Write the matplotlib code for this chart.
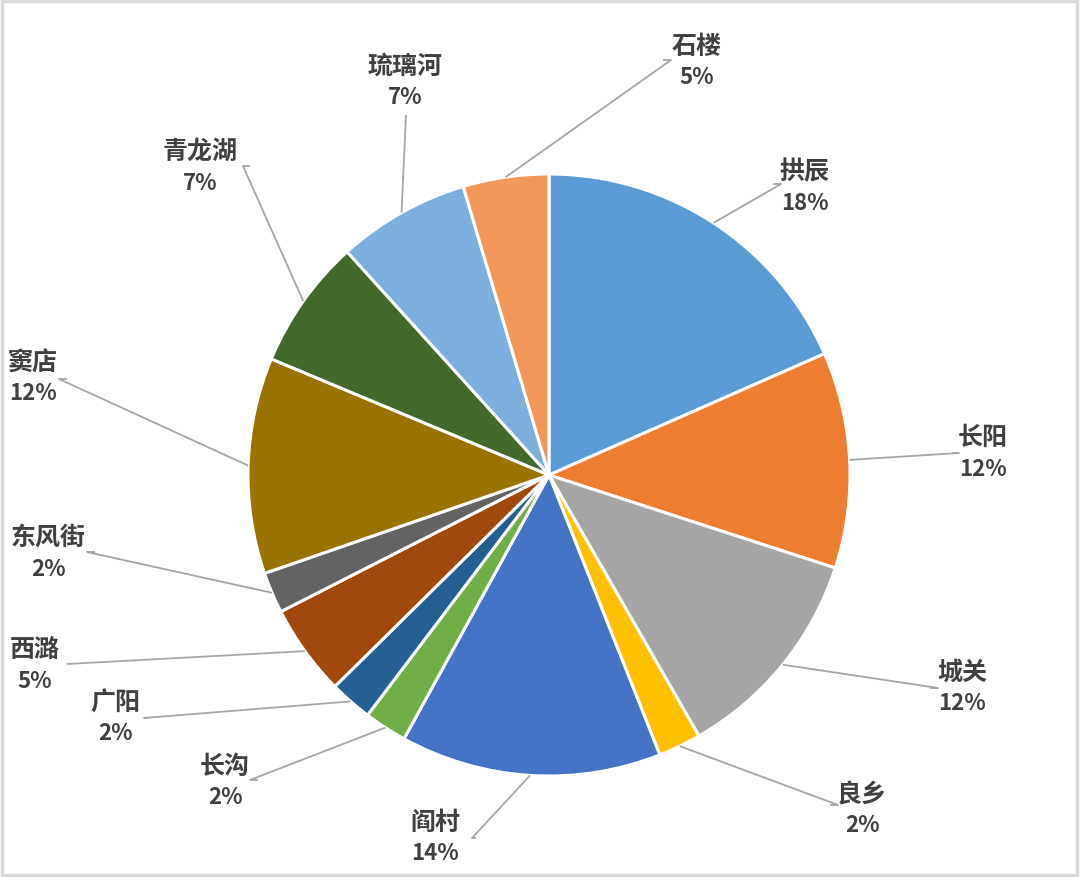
import matplotlib
matplotlib.use("Agg")
import matplotlib.pyplot as plt
import numpy as np
from matplotlib.patches import Rectangle

# ---- data ----
names = ["拱辰", "长阳", "城关", "良乡", "阎村", "长沟", "广阳", "西潞",
         "东风街", "窦店", "青龙湖", "琉璃河", "石楼"]
shares = [18.4, 11.6, 11.7, 2.3, 14.0, 2.3, 2.3, 4.9, 2.2, 11.6, 7.0, 7.1, 4.6]
colors = ["#5B9BD5", "#ED7D31", "#A5A5A5", "#FFC000", "#4472C4", "#70AD47",
          "#255E91", "#9E480E", "#636363", "#997300", "#43682B", "#7CAFDD",
          "#F1975A"]

# ---- layout (pixel coords, y measured from top) ----
W, H = 1080, 877
CX, CY, R = 549, 475, 301
label_pos = [(805, 172), (983, 438), (962, 673), (862, 795), (435, 823),
             (225, 767), (115, 703), (35, 650), (48, 538), (33, 363),
             (200, 152), (405, 67), (697, 47)]
line_end = [(773, 184), (952, 453), (930, 688), (830, 805), (476, 838),
            (258, 780), (148, 718), (67, 664), (95, 552), (67, 379),
            (250, 166), (406, 115), (663, 60)]
knee_dx = [-8, -7, -8, -8, 4, 8, 4, 0, 8, 8, 7, 0, -8]

plt.rcParams['font.family'] = ['Noto Sans CJK SC', 'DejaVu Sans']

fig = plt.figure(figsize=(W / 100, H / 100), dpi=100)
ax = fig.add_axes([0, 0, 1, 1])

def Y(y):
    return H - y

wedges, _ = ax.pie(shares, colors=colors, startangle=90, counterclock=False,
                   center=(CX, Y(CY)), radius=R,
                   wedgeprops=dict(edgecolor='white', linewidth=2.2))
ax.set_xlim(0, W)
ax.set_ylim(0, H)
ax.set_aspect('equal')
ax.axis('off')

total = sum(shares)
cum = np.cumsum([0] + shares[:-1])
for i, (nm, v) in enumerate(zip(names, shares)):
    mid = (cum[i] + v / 2) / total * 2 * np.pi
    sx = CX + R * np.sin(mid)
    sy = CY - R * np.cos(mid)
    ex, ey = line_end[i]
    kx = ex - knee_dx[i]
    ax.plot([sx, kx, ex], [Y(sy), Y(ey), Y(ey)], color='#A6A6A6', lw=1.3,
            solid_capstyle='butt', zorder=1)
    lx, ly = label_pos[i]
    ax.text(lx, Y(ly), nm, ha='center', va='center', fontsize=18,
            fontweight='bold', color='#404040')
    ax.text(lx, Y(ly + 31), f"{round(v / total * 100)}%", ha='center',
            va='center', fontsize=16, fontweight='bold', color='#404040')

ax.add_patch(Rectangle((1.5, 2.5), W - 4.5, H - 3.5, fill=False,
                       edgecolor='#D9D9D9', lw=2.5, zorder=5))

fig.savefig("out.png", dpi=100, facecolor='white')
